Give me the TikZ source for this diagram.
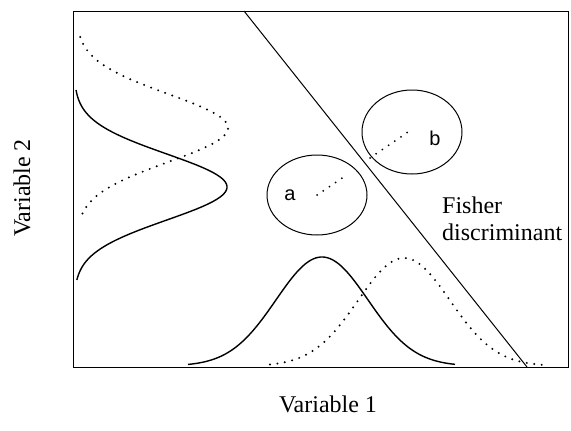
\documentclass[tikz,border=0pt]{standalone}
\usepackage{fontspec}
\usetikzlibrary{shapes.geometric}
\setmainfont{Liberation Serif}
\newfontfamily\labelsans{Liberation Sans}
\begin{document}
\begin{tikzpicture}[x=1pt,y=-1pt,
  frame/.style={line width=1pt},
  solidcurve/.style={line width=1.4pt},
  dotcurve/.style={line width=2.2pt, line cap=round, dash pattern=on 0pt off 7.5pt},
  blob/.style={draw, ellipse, line width=1pt, inner sep=0pt},
  lbl/.style={font=\fontsize{24}{27}\selectfont},
  sanslbl/.style={font=\labelsans\fontsize{20}{23}\selectfont}]
\useasboundingbox (0,0) rectangle (571,431);
% frame
\draw[frame] (73,11) rectangle (568,367);
% Fisher discriminant line
\coordinate (ftop) at (244,11);
\coordinate (fbot) at (527,367);
\draw[line width=1pt] (ftop) -- (fbot);
% vertical distributions (Variable 2)
\draw[solidcurve] plot[domain=90:280, samples=100] ({74+153*exp(-0.5*((\x-187)/33)^2)}, \x);
\draw[dotcurve] plot[domain=37:220, samples=100] ({76+152*exp(-0.5*((\x-128)/34)^2)}, \x);
% horizontal distributions (Variable 1)
\draw[solidcurve] plot[domain=188:455, samples=120] (\x, {366-109*exp(-0.5*((\x-322)/46)^2)});
\draw[dotcurve] plot[domain=270:542, samples=120] (\x, {366-108*exp(-0.5*((\x-404)/46)^2)});
% ellipses
\node[blob, minimum width=100pt, minimum height=80pt] (ea) at (317,195) {};
\node[blob, minimum width=100pt, minimum height=84pt] (eb) at (412,132) {};
\node[sanslbl] (la) at (290,195) {a};
\node[sanslbl] (lb) at (435,138) {b};
\coordinate (a1) at (317,195);
\coordinate (a2) at (348,174);
\coordinate (b1) at (370,158);
\coordinate (b2) at (408,132);
\draw[dotcurve, line width=2pt] (a1) -- (a2);
\draw[dotcurve, line width=2pt] (b1) -- (b2);
% labels
\node[lbl, align=left, anchor=west, inner sep=0pt] (fd) at (442,219) {Fisher\\discriminant};
\node[lbl] (v1) at (328,404) {Variable 1};
\node[lbl, rotate=90] (v2) at (22,188) {Variable 2};
\end{tikzpicture}
\end{document}
